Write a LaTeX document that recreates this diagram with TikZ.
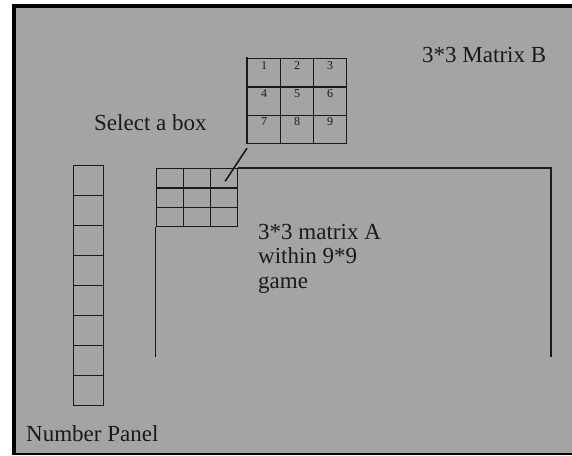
\documentclass[tikz,border=0pt]{standalone}
\usepackage{fontspec}
\setmainfont{Liberation Serif}
\definecolor{bggrey}{HTML}{A4A4A4}
\definecolor{ink}{HTML}{1A1A1A}
\tikzset{
  lbl/.style={inner sep=0pt, anchor=base west, font=\fontsize{23}{24.5}\selectfont, text=ink},
  cellB/.style={draw=ink, line width=1.3pt, minimum width=33pt, minimum height=28.3pt, inner sep=0pt, anchor=north west},
  cellA/.style={draw=ink, line width=1.3pt, minimum width=27.2pt, minimum height=19.3pt, inner sep=0pt, anchor=north west},
  cellN/.style={draw=ink, line width=1.3pt, minimum width=30pt, minimum height=30pt, inner sep=0pt, anchor=north west},
  digit/.style={inner sep=0pt, anchor=north, font=\fontsize{12}{12}\selectfont, text=ink},
  wire/.style={draw=ink, line width=1.3pt}
}
\begin{document}
\begin{tikzpicture}[x=1pt, y=-1pt]
\useasboundingbox (0,0) rectangle (572,455);
\fill[white] (0,0) rectangle (572,455);
\fill[bggrey] (14,6) rectangle (572,455);
% outer frame
\draw[black, line width=4pt] (14,455) -- (14,6) -- (572,6);
\draw[black, line width=2pt] (12,454) -- (572,454);

% Matrix B
\foreach \r in {0,1,2} {
  \foreach \c in {0,1,2} {
    \pgfmathtruncatemacro{\n}{3*\r+\c+1}
    \node[cellB] (b\n) at ({247+33*\c},{58+28.3*\r}) {};
    \node[digit] (bd\n) at ([yshift=-3pt]b\n.north) {\n};
  }
}
\draw[ink, line width=2.6pt] ([yshift=1.5pt]b1.north west) -- (b7.south west);

% Matrix A
\foreach \r in {0,1,2} {
  \foreach \c in {0,1,2} {
    \pgfmathtruncatemacro{\n}{3*\r+\c+1}
    \node[cellA] (a\n) at ({155.5+27.2*\c},{168+19.3*\r}) {};
  }
}
% 9x9 game frame
\coordinate (gbl) at (155.5,357);
\coordinate (gtr) at (551,168);
\coordinate (gbr) at (551,357);
\draw[wire] (a3.north east) -- (gtr) -- (gbr);
\draw[wire] (a7.south west) -- (gbl);

% connector
\coordinate (cend) at ([xshift=1pt,yshift=-3pt]a3.center);
\draw[ink, line width=1.6pt] ([yshift=-4pt]b7.south west) -- (cend);

% Number panel
\foreach \k in {0,...,7} {
  \node[cellN] (n\k) at (73,{165+30*\k}) {};
}

% labels
\node[lbl] (selbox) at (94,130.5) {Select a box};
\node[lbl] (matB) at (422,62) {3*3 Matrix B};
\node[lbl, align=left, anchor=north west] (matA) at (258,224) {3*3 matrix A\\within 9*9\\game};
\node[lbl] (panel) at (26,441.5) {Number Panel};
\end{tikzpicture}
\end{document}
